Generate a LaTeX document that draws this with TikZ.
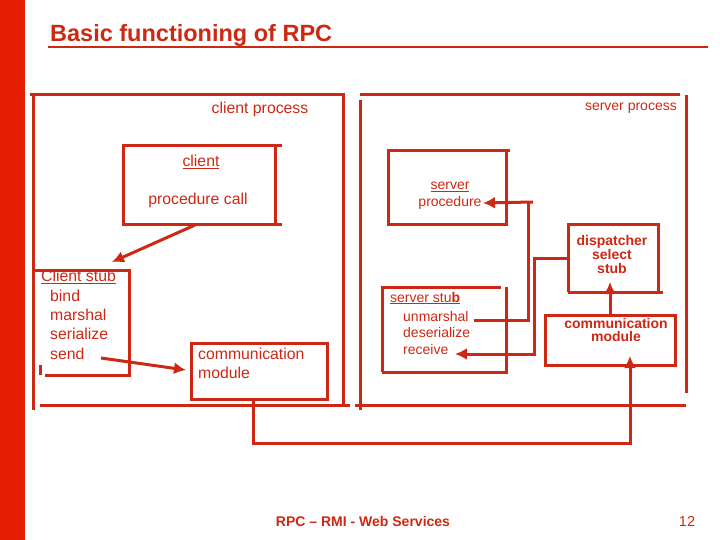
\documentclass[tikz,border=0pt]{standalone}
\usepackage{fontspec}
\setmainfont{Liberation Sans}
\definecolor{rr}{RGB}{205,40,20}
\definecolor{bar}{RGB}{228,30,0}
\begin{document}
\begin{tikzpicture}[x=1pt,y=-1pt,
  ln/.style={draw=rr,line width=3pt},
  ar/.style={ln,-{Latex[length=12pt,width=12pt]}},
  t/.style={text=rr,font=\fontsize{15.8}{18}\selectfont,inner sep=0pt},
  ts/.style={t,font=\fontsize{14}{16}\selectfont},
  tb/.style={t,font=\fontsize{14}{16}\selectfont\bfseries}]
\usetikzlibrary{arrows.meta}
\useasboundingbox (0,0) rectangle (720,540);
\fill[bar] (0,0) rectangle (25,540);
\node[tb,font=\fontsize{23.5}{25}\selectfont\bfseries,anchor=west] (title) at (50,35) {Basic functioning of RPC};
\draw[draw=rr,line width=2.5pt] (48,47) -- (708,47);
% client process
\draw[ln] (30,95) -- (343,95) -- (343,405); \draw[ln] (33,95) -- (33,410); \draw[ln] (40,405) -- (350,405);
\node[t] (cp) at (260,109) {client process};
% server process
\draw[ln] (360,95) -- (680,95); \draw[ln] (360,100) -- (360,410); \draw[ln] (686,95) -- (686,393); \draw[ln] (355,405) -- (686,405);
\node[ts,anchor=east] (sp) at (677,108) {server process};
% client box
\draw[ln] (282,146) -- (123,146) -- (123,225) -- (282,225); \draw[ln] (275,146) -- (275,225);
\node[t] (cl) at (201,162) {\underline{client}};
\node[t] (pc) at (198,200) {procedure call};
\coordinate (pcb) at (195,225);
% client stub
\draw[ln] (35,270) -- (129,270) -- (129,375) -- (45,375); \draw[ln] (40,365) -- (40,375);
\node[t,anchor=west] (cs) at (41,277) {\underline{Client stub}};
\node[t,anchor=west] (b1) at (50,296) {bind};
\node[t,anchor=west] (b2) at (50,315) {marshal};
\node[t,anchor=west] (b3) at (50,334) {serialize};
\node[t,anchor=west] (b4) at (50,354) {send};
\coordinate (csin) at (112,262);
\draw[ar] (pcb) -- (csin);
% client comm
\draw[ln] (191,343) rectangle (327,399);
\node[t,anchor=west] (cm1) at (198,354) {communication};
\node[t,anchor=west] (cm2) at (198,373) {module};
\coordinate (s1) at (101,358); \coordinate (cmin) at (186,370);
\draw[ar] (s1) -- (cmin);
% server procedure
\draw[ln] (510,151) -- (388,151) -- (388,225) -- (506,225) -- (506,151);
\node[ts] (sv) at (450,187) {\underline{server}};
\node[ts] (spr) at (450,203) {procedure};
\coordinate (spin) at (483,203);
% dispatcher
\draw[ln] (568,292) -- (568,225) -- (658,225) -- (658,292); \draw[ln] (568,292) -- (663,292);
\node[tb,align=center] (dis) at (612,254) {dispatcher\\[-2pt]select\\[-2pt]stub};
% server stub
\draw[ln] (382,372) -- (382,287) -- (501,287); \draw[ln] (506,287) -- (506,372) -- (382,372);
\node[ts,anchor=west] (ss) at (390,298) {\underline{server stu{\bfseries b}}};
\node[ts,anchor=west] (u1) at (403,316) {unmarshal};
\node[ts,anchor=west] (u2) at (403,332) {deserialize};
\node[ts,anchor=west] (u3) at (403,349) {receive};
% server comm
\draw[ln] (545,315) rectangle (675,365);
\node[tb,align=center] (scm) at (616,330) {communication\\[-3pt]module};
% connectors server
\coordinate (ue) at (474,320); \coordinate (j1) at (528,320); \coordinate (j2) at (533,202);
\draw[ln] (ue) -- (j1) -- (528,202); \draw[ar] (j2) -- (spin);
\coordinate (dl) at (568,258); \coordinate (rin) at (455,354);
\draw[ar] (dl) -- (534,258) -- (534,354) -- (rin);
\coordinate (sct) at (610,315); \coordinate (dib) at (610,282);
\draw[ar] (sct) -- (dib);
% bottom loop
\coordinate (ccb) at (253,399); \coordinate (scb) at (630,356);
\draw[ar] (ccb) -- (253,443) -- (630,443) -- (scb);
% footer
\node[tb,font=\fontsize{14}{16}\selectfont\bfseries] (ft) at (363,521) {RPC -- RMI - Web Services};
\node[t,font=\fontsize{14.5}{16}\selectfont] (pg) at (687,521) {12};
\end{tikzpicture}
\end{document}
